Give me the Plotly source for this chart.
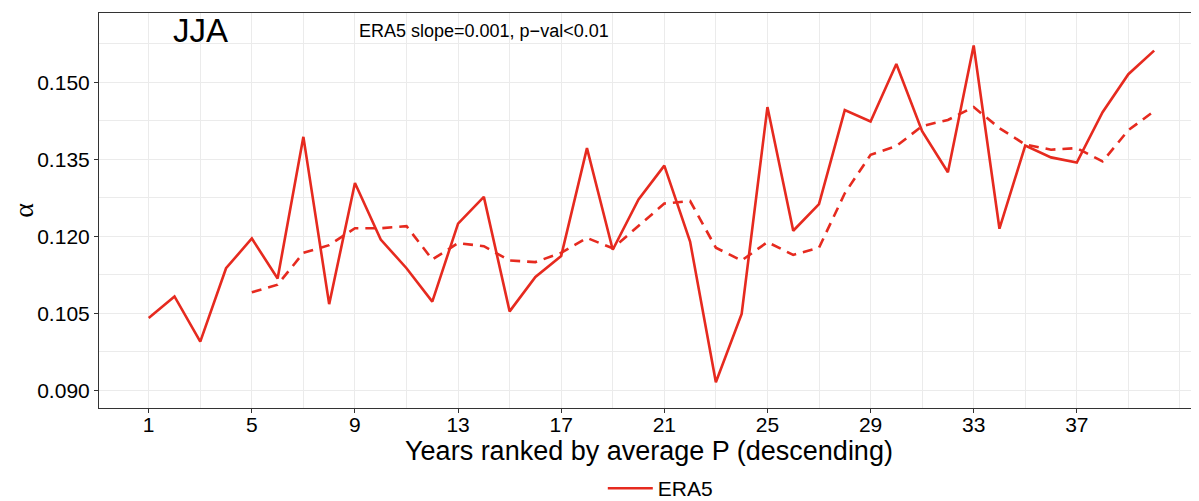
import plotly.graph_objects as go

years_rank = list(range(1, 41))
era5_alpha = [0.1041, 0.1083, 0.0995, 0.1138, 0.1196, 0.1118, 0.1394, 0.1068, 0.1304, 0.1194,
              0.1138, 0.1073, 0.1225, 0.1277, 0.1054, 0.1121, 0.1162, 0.1372, 0.1174, 0.1272,
              0.1338, 0.1190, 0.0916, 0.1049, 0.1452, 0.1211, 0.1263, 0.1446, 0.1424, 0.1536,
              0.1405, 0.1325, 0.1572, 0.1215, 0.1377, 0.1354, 0.1344, 0.1442, 0.1516, 0.1562]

smooth_rank = list(range(5, 41))
era5_smooth = [0.1091, 0.1106, 0.1168, 0.1183, 0.1216, 0.1216, 0.1220, 0.1155, 0.1187, 0.1181,
               0.1153, 0.1150, 0.1168, 0.1197, 0.1177, 0.1220, 0.1264, 0.1269, 0.1178, 0.1153,
               0.1189, 0.1164, 0.1178, 0.1284, 0.1359, 0.1376, 0.1415, 0.1427, 0.1452, 0.1411,
               0.1379, 0.1369, 0.1372, 0.1346, 0.1407, 0.1444]

x_tickvals = [1, 5, 9, 13, 17, 21, 25, 29, 33, 37]
x_minorvals = [3, 7, 11, 15, 19, 23, 27, 31, 35, 39, 41]
y_tickvals = [0.090, 0.105, 0.120, 0.135, 0.150]
y_minorvals = [0.0975, 0.1125, 0.1275, 0.1425, 0.1575]

RED = "#e62a1f"
FONT = "Liberation Sans, Arial, Helvetica, sans-serif"
GRID = "#ebebeb"
BORDER = "#333333"

fig = go.Figure()
fig.add_trace(go.Scatter(x=years_rank, y=era5_alpha, mode="lines", name="ERA5",
                         line=dict(color=RED, width=2.6)))
fig.add_trace(go.Scatter(x=smooth_rank, y=era5_smooth, mode="lines", name="ERA5 smooth",
                         showlegend=False,
                         line=dict(color=RED, width=2.6, dash="10px,7px")))

fig.add_annotation(x=3, y=0.1601, text="JJA", showarrow=False,
                   font=dict(family=FONT, size=33, color="black"),
                   xanchor="center", yanchor="middle")
fig.add_annotation(x=14, y=0.1601, text="ERA5 slope=0.001, p\u2212val<0.01", showarrow=False,
                   font=dict(family=FONT, size=18, color="black"),
                   xanchor="center", yanchor="middle")

# page body has an 8px margin, so the figure is sized/offset to compensate
fig.update_layout(
    width=1191, height=493,
    margin=dict(l=91, r=0, t=5, b=93, autoexpand=False),
    paper_bgcolor="white", plot_bgcolor="white",
    font=dict(family=FONT, color="black"),
    showlegend=True,
    legend=dict(orientation="h", x=0.458, xanchor="left", y=-0.204, yanchor="middle",
                itemwidth=45,
                font=dict(family=FONT, size=21, color="black"),
                bgcolor="rgba(0,0,0,0)"),
    xaxis=dict(
        range=[-0.928, 41.74], automargin=False,
        tickmode="array", tickvals=x_tickvals, ticktext=[str(v) for v in x_tickvals],
        showgrid=True, gridcolor=GRID, gridwidth=1.1,
        minor=dict(tickmode="array", tickvals=x_minorvals, showgrid=True,
                   gridcolor=GRID, gridwidth=0.6, ticks=""),
        ticks="outside", ticklen=4, tickcolor=BORDER, tickwidth=1,
        ticklabelstandoff=-6,
        showline=True, linecolor=BORDER, linewidth=1.1, mirror=True,
        zeroline=False,
        tickfont=dict(family=FONT, size=21, color="black"),
        title=dict(text="Years ranked by average P (descending)",
                   font=dict(family=FONT, size=27, color="black"), standoff=1),
    ),
    yaxis=dict(
        range=[0.08657, 0.16353], automargin=False,
        tickmode="array", tickvals=y_tickvals, ticktext=["%.3f" % v for v in y_tickvals],
        showgrid=True, gridcolor=GRID, gridwidth=1.1,
        minor=dict(tickmode="array", tickvals=y_minorvals, showgrid=True,
                   gridcolor=GRID, gridwidth=0.6, ticks=""),
        ticks="outside", ticklen=4, tickcolor=BORDER, tickwidth=1,
        showline=True, linecolor=BORDER, linewidth=1.1, mirror=False,
        zeroline=False,
        tickfont=dict(family=FONT, size=21, color="black"),
        title=dict(text="\u03b1", font=dict(family="Liberation Serif, serif", size=28, color="black"),
                   standoff=8),
    ),
)

fig.write_html("out.html")
